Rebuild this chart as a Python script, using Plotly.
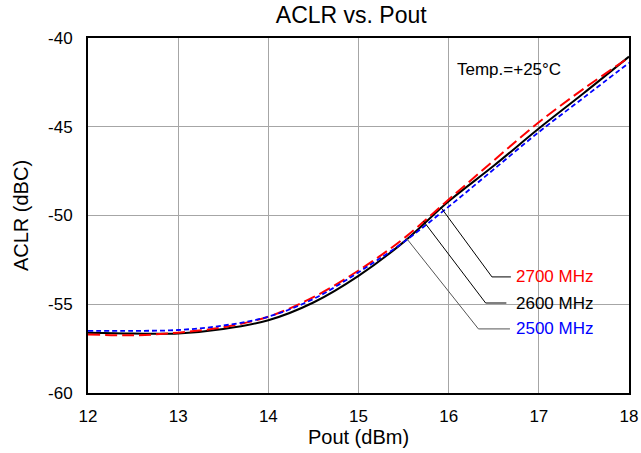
import plotly.graph_objects as go

pout = [12, 12.5, 13, 13.5, 14, 14.5, 15, 15.5, 16, 16.5, 17, 17.5, 18]
aclr_2600 = [-56.6, -56.65, -56.65, -56.4, -55.9, -54.9, -53.4, -51.5, -49.2, -47.2, -45.1, -43.1, -41.05]
aclr_2700 = [-56.7, -56.75, -56.6, -56.3, -55.7, -54.6, -53.1, -51.3, -49.1, -46.9, -44.75, -42.85, -41.1]
aclr_2500 = [-56.5, -56.5, -56.45, -56.2, -55.7, -54.7, -53.2, -51.5, -49.5, -47.4, -45.3, -43.35, -41.4]

x_ticks = [12, 13, 14, 15, 16, 17, 18]
x_ticktext = ["12", "13", "14", "15", "16", "17", "18"]
y_ticks = [-60, -55, -50, -45, -40]
y_ticktext = ["-60", "-55", "-50", "-45", "-40"]

FONT = "Liberation Sans, Arial, sans-serif"

fig = go.Figure()
fig.add_trace(go.Scatter(x=pout, y=aclr_2600, mode="lines", line=dict(color="black", width=2, shape="spline"), name="2600 MHz"))
fig.add_trace(go.Scatter(x=pout, y=aclr_2700, mode="lines", line=dict(color="#ff0000", width=2, dash="12px,5px", shape="spline"), name="2700 MHz"))
fig.add_trace(go.Scatter(x=pout, y=aclr_2500, mode="lines", line=dict(color="#0000ff", width=1.8, dash="5px,3px", shape="spline"), name="2500 MHz"))

# leader lines (callouts)
leaders = [
    ([15.91, 16.48, 16.69], [-49.52, -53.46, -53.46], "black"),
    ([15.72, 16.41, 16.64], [-50.31, -54.93, -54.93], "black"),
    ([15.53, 16.33, 16.68], [-51.27, -56.39, -56.39], "#555555"),
]
for xs, ys, c in leaders:
    fig.add_trace(go.Scatter(x=xs, y=ys, mode="lines", line=dict(color=c, width=1), hoverinfo="skip", showlegend=False))

labels = [("2700 MHz", -53.46, "#ff0000"), ("2600 MHz", -54.93, "black"), ("2500 MHz", -56.39, "#0000ff")]
for t, yv, c in labels:
    fig.add_annotation(x=16.73, y=yv, text=t, showarrow=False, xanchor="left", yanchor="middle",
                       font=dict(family=FONT, size=17, color=c))

fig.add_annotation(x=16.07, y=-41.75, text="Temp.=+25°C", showarrow=False, xanchor="left", yanchor="middle",
                   font=dict(family=FONT, size=17, color="black"))

fig.update_layout(
    width=641, height=453,
    margin=dict(l=88, r=12, t=38, b=60),
    paper_bgcolor="white", plot_bgcolor="white",
    showlegend=False,
    title=dict(text="ACLR vs. Pout", x=0.548, xanchor="center", y=0.967, yanchor="middle",
               font=dict(family=FONT, size=23, color="black")),
    font=dict(family=FONT, color="black"),
)
fig.update_xaxes(range=[12, 18], tickvals=x_ticks, ticktext=x_ticktext, ticks="outside", ticklen=7,
                 tickcolor="rgba(0,0,0,0)", showgrid=True, gridcolor="#a6a6a6", gridwidth=1,
                 showline=True, linecolor="black", linewidth=2, mirror=True, zeroline=False, automargin=False,
                 tickfont=dict(family=FONT, size=17, color="black"),
                 title=dict(text="Pout (dBm)", font=dict(family=FONT, size=20, color="black"), standoff=1))
fig.update_yaxes(range=[-60, -40], tickvals=y_ticks, ticktext=y_ticktext, ticks="outside", ticklen=10,
                 tickcolor="rgba(0,0,0,0)", showgrid=True, gridcolor="#a6a6a6", gridwidth=1,
                 showline=True, linecolor="black", linewidth=2, mirror=True, zeroline=False, automargin=False,
                 tickfont=dict(family=FONT, size=17, color="black"),
                 title=dict(text="ACLR (dBC)", font=dict(family=FONT, size=20, color="black"), standoff=14))

fig.write_html("out.html", config={"displayModeBar": False},
               post_script="document.body.style.margin='0';document.body.style.overflow='hidden';")
